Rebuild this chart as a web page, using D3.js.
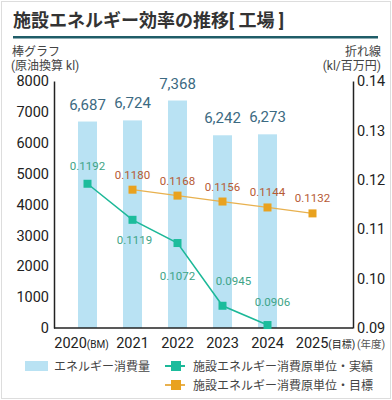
<!DOCTYPE html>
<html>
<head>
<meta charset="utf-8">
<script src="https://cdn.jsdelivr.net/npm/d3@7"></script>
<style>
  body { margin: 0; background: #fff; }
  svg text { font-family: Roboto, "Noto Sans CJK JP", sans-serif; }
</style>
</head>
<body>
<svg id="chart" width="392" height="400"></svg>
<script>
// data
const years = ["2020", "2021", "2022", "2023", "2024", "2025"];
const yearSuffix = ["(BM)", "", "", "", "", "(目標)"];
const energy = [6687, 6724, 7368, 6242, 6273, null];
const actual = [0.1192, 0.1119, 0.1072, 0.0945, 0.0906, null];
const target = [null, 0.1180, 0.1168, 0.1156, 0.1144, 0.1132];
const leftTicks = [0, 1000, 2000, 3000, 4000, 5000, 6000, 7000, 8000];
const rightTicks = [0.09, 0.10, 0.11, 0.12, 0.13, 0.14];

// label nudges for the actual line (dx, dy from marker)
const actualLabelPos = [[0, -18], [2, 20], [0, 33], [11, -25], [5, -23]];

const svg = d3.select("#chart");
const plotL = 54, plotR = 353, plotT = 81, plotB = 328;

// card frame + title
svg.append("rect").attr("x", 1.5).attr("y", 1.5).attr("width", 389).attr("height", 397)
    .attr("fill", "#fff").attr("stroke", "#ddd");
svg.append("text").attr("x", 13).attr("y", 27)
    .attr("font-size", 18).attr("font-weight", 700).attr("fill", "#333")
    .text("施設エネルギー効率の推移[ 工場 ]");
svg.append("rect").attr("x", 13).attr("y", 36).attr("width", 365).attr("height", 2.5)
    .attr("fill", "#1f5d68");

// axis titles
const axTitle = svg.append("g").attr("font-size", 12).attr("fill", "#444");
axTitle.append("text").attr("x", 12).attr("y", 56).text("棒グラフ");
axTitle.append("text").attr("x", 11).attr("y", 70).text("(原油換算 kl)");
axTitle.append("text").attr("x", 381).attr("y", 56).attr("text-anchor", "end").text("折れ線");
axTitle.append("text").attr("x", 381).attr("y", 70).attr("text-anchor", "end").text("(kl/百万円)");

// scales
const x = d3.scalePoint().domain(years).range([87.5, 312.5]);
const y = d3.scaleLinear().domain([0, 8000]).range([plotB, plotT]);
const y2 = d3.scaleLinear().domain([0.09, 0.14]).range([plotB, plotT]);
const barW = 19;

// bars
const bars = energy.map((v, i) => ({ year: years[i], v })).filter(d => d.v != null);
svg.selectAll(".bar").data(bars).enter().append("rect")
    .attr("class", "bar")
    .attr("x", d => x(d.year) - barW / 2)
    .attr("y", d => y(d.v))
    .attr("width", barW)
    .attr("height", d => plotB - y(d.v))
    .attr("fill", "#b9e2f3");
svg.selectAll(".barlbl").data(bars).enter().append("text")
    .attr("x", d => x(d.year))
    .attr("y", d => y(d.v) - 12)
    .attr("text-anchor", "middle")
    .attr("font-size", 15)
    .attr("fill", "#3c6a82")
    .text(d => d3.format(",")(d.v));

// axes
svg.append("g").attr("transform", `translate(${plotL},0)`)
    .call(d3.axisLeft(y).tickValues(leftTicks).tickSize(0).tickPadding(5).tickFormat(d3.format("d")))
    .call(g => g.select(".domain").attr("stroke", "#222").attr("stroke-width", 1.5))
    .call(g => g.selectAll("text").attr("font-size", 14.5)
        .attr("fill", "#222").attr("font-family", "Roboto, sans-serif"));
svg.append("g").attr("transform", `translate(${plotR},0)`)
    .call(d3.axisRight(y2).tickValues(rightTicks).tickSize(0).tickPadding(4).tickFormat(d3.format(".2f")))
    .call(g => g.select(".domain").attr("stroke", "#222").attr("stroke-width", 1.5))
    .call(g => g.selectAll("text").attr("font-size", 14.5)
        .attr("fill", "#222").attr("font-family", "Roboto, sans-serif"));
svg.append("line").attr("x1", plotL).attr("x2", plotR).attr("y1", plotB).attr("y2", plotB)
    .attr("stroke", "#222").attr("stroke-width", 1.5);

// x labels
const xl = svg.selectAll(".xl").data(years).enter().append("text")
    .attr("class", "xl")
    .attr("x", (d, i) => x(d) + (i === 0 ? -6 : i === 5 ? 13 : 0))
    .attr("y", 348)
    .attr("text-anchor", "middle")
    .attr("font-size", 14.5).attr("fill", "#222");
xl.append("tspan").text(d => d);
xl.append("tspan").attr("font-size", 10).text((d, i) => yearSuffix[i]);
svg.append("text").attr("x", 357).attr("y", 348).attr("font-size", 10.5).attr("fill", "#555").text("(年度)");

// lines
function drawLine(vals, color, lineColor, lineW, labelColor, labelPos) {
    const pts = vals.map((v, i) => ({ year: years[i], v, i })).filter(d => d.v != null);
    svg.append("path").datum(pts)
        .attr("fill", "none").attr("stroke", lineColor).attr("stroke-width", lineW)
        .attr("d", d3.line().x(d => x(d.year)).y(d => y2(d.v)));
    svg.selectAll(null).data(pts).enter().append("rect")
        .attr("x", d => x(d.year) - 4).attr("y", d => y2(d.v) - 4)
        .attr("width", 8).attr("height", 8).attr("fill", color);
    svg.selectAll(null).data(pts).enter().append("text")
        .attr("x", (d, k) => x(d.year) + labelPos(k)[0])
        .attr("y", (d, k) => y2(d.v) + labelPos(k)[1] + 4)
        .attr("text-anchor", "middle").attr("font-size", 11.5).attr("fill", labelColor)
        .text(d => d3.format(".4f")(d.v));
}
drawLine(target, "#e9a21f", "#e8b14f", 1.2, "#b65a35", () => [0, -15]);
drawLine(actual, "#1cbc9c", "#1cb898", 1.5, "#3ea487", k => actualLabelPos[k]);

// legend
const lg = svg.append("g").attr("font-size", 12).attr("fill", "#444");
lg.append("rect").attr("x", 25).attr("y", 361).attr("width", 23).attr("height", 10).attr("fill", "#b9e2f3");
lg.append("text").attr("x", 54).attr("y", 370.5).text("エネルギー消費量");
const legLines = [
    { label: "施設エネルギー消費原単位・実績", color: "#1cbc9c", line: "#1cb898", yy: 366 },
    { label: "施設エネルギー消費原単位・目標", color: "#e9a21f", line: "#e8b14f", yy: 385 }
];
legLines.forEach(d => {
    lg.append("line").attr("x1", 165).attr("x2", 185).attr("y1", d.yy).attr("y2", d.yy)
        .attr("stroke", d.line).attr("stroke-width", 2);
    lg.append("rect").attr("x", 171).attr("y", d.yy - 5).attr("width", 10).attr("height", 10).attr("fill", d.color);
    lg.append("text").attr("x", 193).attr("y", d.yy + 4.5).text(d.label);
});
</script>
</body>
</html>
